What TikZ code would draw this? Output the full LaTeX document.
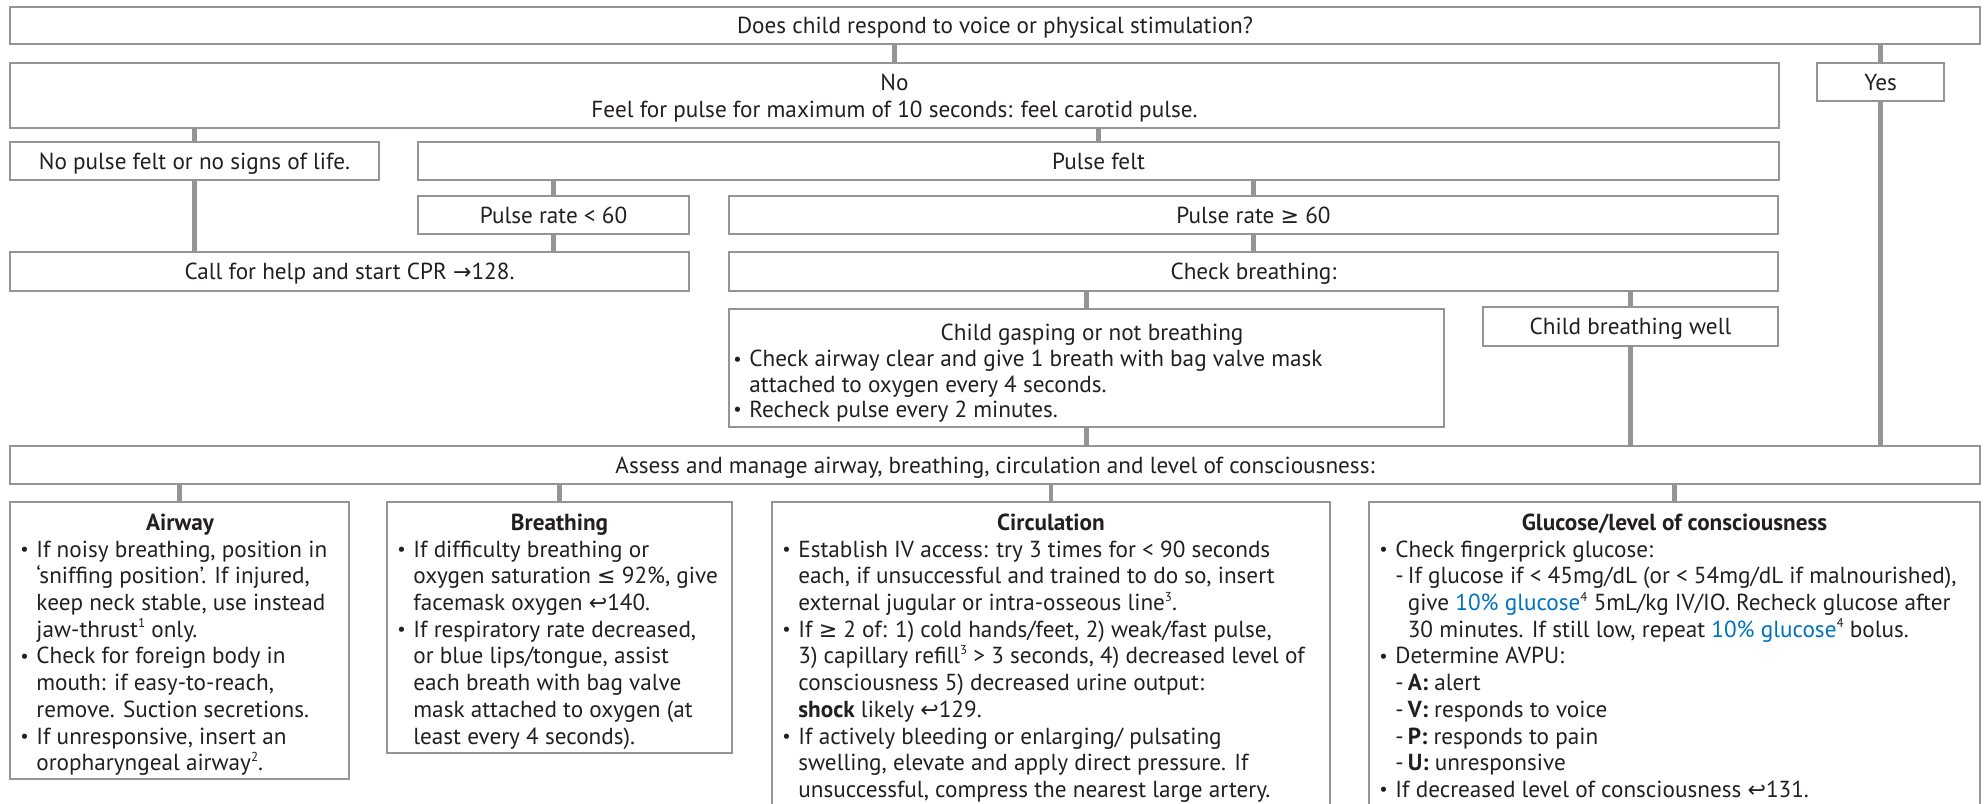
\documentclass[tikz,border=0pt]{standalone}
\usepackage{fontspec}
\setmainfont{PT Sans}
\newfontfamily\symf{DejaVu Sans}[Scale=0.95]
\usetikzlibrary{fit}
\definecolor{lg}{RGB}{147,149,152}
\definecolor{tx}{RGB}{35,31,32}
\definecolor{bl}{RGB}{0,114,188}
\newcommand{\xge}{{\symf ≥}}
\newcommand{\xle}{{\symf ≤}}
\newcommand{\xto}{{\symf →}}
\newcommand{\xret}{{\symf ↩}}
\newcommand{\sups}[1]{\raisebox{0.8ex}{\fontsize{6.5}{7}\selectfont #1}}
\newcommand{\bu}{\strut\makebox[8pt][l]{\raisebox{0.15ex}{\scalebox{0.8}{\textbullet}}}}
\newcommand{\ind}{\strut\hspace*{8pt}}
\newcommand{\dsh}{\strut\hspace*{8pt}\makebox[6.2pt][l]{-}}
\newcommand{\dind}{\strut\hspace*{14.2pt}}
\newcommand{\glu}{{\color{bl}10\% glucose}\sups{4}}
\begin{document}
\begin{tikzpicture}[x=0.5pt,y=-0.5pt,
  font=\fontsize{11.6}{13.35}\selectfont, text=tx,
  box/.style={draw=lg, line width=0.9pt, inner sep=0pt},
  conn/.style={draw=lg, line width=2.3pt},
  lbl/.style={inner sep=0pt, align=center, yshift=-1.5pt},
  para/.style={inner sep=0pt, align=left, anchor=north west},
  ttl/.style={inner sep=0pt, anchor=base, font=\fontsize{11.6}{13.35}\selectfont\bfseries}]
\useasboundingbox (0,0) rectangle (1984,803);
\clip (0,0) rectangle (1984,803);
% boxes
\node[box, fit={(10,7)(1980,44)}] (top) {};
\node[box, fit={(10,63)(1779,128)}] (no) {};
\node[box, fit={(1817,63)(1944,101)}] (yes) {};
\node[box, fit={(10,142)(379,180)}] (nopulse) {};
\node[box, fit={(418,142)(1779,180)}] (pulsefelt) {};
\node[box, fit={(418,196)(689,234)}] (prlow) {};
\node[box, fit={(729,196)(1778,234)}] (prhigh) {};
\node[box, fit={(10,252)(689,291)}] (cpr) {};
\node[box, fit={(729,252)(1778,291)}] (checkb) {};
\node[box, fit={(729,309)(1444,427)}] (gasp) {};
\node[box, fit={(1483,307)(1778,346)}] (well) {};
\node[box, fit={(10,446)(1980,484)}] (assess) {};
\node[box, fit={(10,502)(349,779)}] (airway) {};
\node[box, fit={(387,502)(732,753)}] (breath) {};
\node[box, fit={(772,502)(1330,820)}] (circ) {};
\node[box, fit={(1369,502)(1980,820)}] (gluc) {};
% connectors
\draw[conn] (no.north) -- (no.north |- top.south);
\draw[conn] (yes.north) -- (yes.north |- top.south);
\draw[conn] (yes.south) -- (yes.south |- assess.north);
\draw[conn] (nopulse.north) -- (nopulse.north |- no.south);
\draw[conn] (pulsefelt.north) -- (pulsefelt.north |- no.south);
\draw[conn] (nopulse.south) -- (nopulse.south |- cpr.north);
\draw[conn] (prlow.north) -- (prlow.north |- pulsefelt.south);
\draw[conn] (prlow.south) -- (prlow.south |- cpr.north);
\draw[conn] (prhigh.north) -- (prhigh.north |- pulsefelt.south);
\draw[conn] (prhigh.south) -- (prhigh.south |- checkb.north);
\draw[conn] (gasp.north) -- (gasp.north |- checkb.south);
\draw[conn] (well.north) -- (well.north |- checkb.south);
\draw[conn] (gasp.south) -- (gasp.south |- assess.north);
\draw[conn] (well.south) -- (well.south |- assess.north);
\draw[conn] (airway.north) -- (airway.north |- assess.south);
\draw[conn] (breath.north) -- (breath.north |- assess.south);
\draw[conn] (circ.north) -- (circ.north |- assess.south);
\draw[conn] (gluc.north) -- (gluc.north |- assess.south);
% single-line texts
\node[lbl] (top-t) at (top.center) {\strut Does child respond to voice or physical stimulation?};
\node[lbl] (no-t) at (no.center) {\strut No\\\strut Feel for pulse for maximum of 10 seconds: feel carotid pulse.};
\node[lbl] (yes-t) at (yes.center) {\strut Yes};
\node[lbl] (nopulse-t) at (nopulse.center) {\strut No pulse felt or no signs of life.};
\node[lbl] (pulsefelt-t) at (pulsefelt.center) {\strut Pulse felt};
\node[lbl] (prlow-t) at (prlow.center) {\strut Pulse rate < 60};
\node[lbl] (prhigh-t) at (prhigh.center) {\strut Pulse rate \xge{} 60};
\node[lbl] (cpr-t) at (cpr.center) {\strut Call for help and start CPR \xto128.};
\node[lbl] (checkb-t) at (checkb.center) {\strut Check breathing:};
\node[lbl] (well-t) at (well.center) {\strut Child breathing well};
\node[lbl] (assess-t) at (assess.center) {\strut Assess and manage airway, breathing, circulation and level of consciousness:};
% gasping box
\node[inner sep=0pt, anchor=base] (gasp-h) at (1092,340) {Child gasping or not breathing};
\node[para, font=\fontsize{11.6}{12.6}\selectfont] (gasp-t) at (733,348.9) {\bu Check airway clear and give 1 breath with bag valve mask\\
\ind attached to oxygen every 4 seconds.\\
\bu Recheck pulse every 2 minutes.};
% bottom boxes
\node[ttl] (airway-h) at (180,530) {Airway};
\node[para] (airway-t) at (20,538) {\bu If noisy breathing, position in\\
\ind ‘sniffing position’. If injured,\\
\ind keep neck stable, use instead\\
\ind jaw-thrust\sups{1} only.\\
\bu Check for foreign body in\\
\ind mouth: if easy-to-reach,\\
\ind remove. Suction secretions.\\
\bu If unresponsive, insert an\\
\ind oropharyngeal airway\sups{2}.};
\node[ttl] (breath-h) at (559.5,530) {Breathing};
\node[para] (breath-t) at (397,538) {\bu If difficulty breathing or\\
\ind oxygen saturation \xle{} 92\%, give\\
\ind facemask oxygen \xret140.\\
\bu If respiratory rate decreased,\\
\ind or blue lips/tongue, assist\\
\ind each breath with bag valve\\
\ind mask attached to oxygen (at\\
\ind least every 4 seconds).};
\node[ttl] (circ-h) at (1051,530) {Circulation};
\node[para] (circ-t) at (782,538) {\bu Establish IV access: try 3 times for < 90 seconds\\
\ind each, if unsuccessful and trained to do so, insert\\
\ind external jugular or intra-osseous line\sups{3}.\\
\bu If \xge{} 2 of: 1) cold hands/feet, 2) weak/fast pulse,\\
\ind 3) capillary refill\sups{3} > 3 seconds, 4) decreased level of\\
\ind consciousness 5) decreased urine output:\\
\ind \textbf{shock} likely \xret129.\\
\bu If actively bleeding or enlarging/ pulsating\\
\ind swelling, elevate and apply direct pressure. If\\
\ind unsuccessful, compress the nearest large artery.};
\node[ttl] (gluc-h) at (1674.5,530) {Glucose/level of consciousness};
\node[para] (gluc-t) at (1379,538) {\bu Check fingerprick glucose:\\
\dsh If glucose if < 45mg/dL (or < 54mg/dL if malnourished),\\
\dind give \glu{} 5mL/kg IV/IO. Recheck glucose after\\
\dind 30 minutes. If still low, repeat \glu{} bolus.\\
\bu Determine AVPU:\\
\dsh \textbf{A:} alert\\
\dsh \textbf{V:} responds to voice\\
\dsh \textbf{P:} responds to pain\\
\dsh \textbf{U:} unresponsive\\
\bu If decreased level of consciousness \xret131.};
\end{tikzpicture}
\end{document}
